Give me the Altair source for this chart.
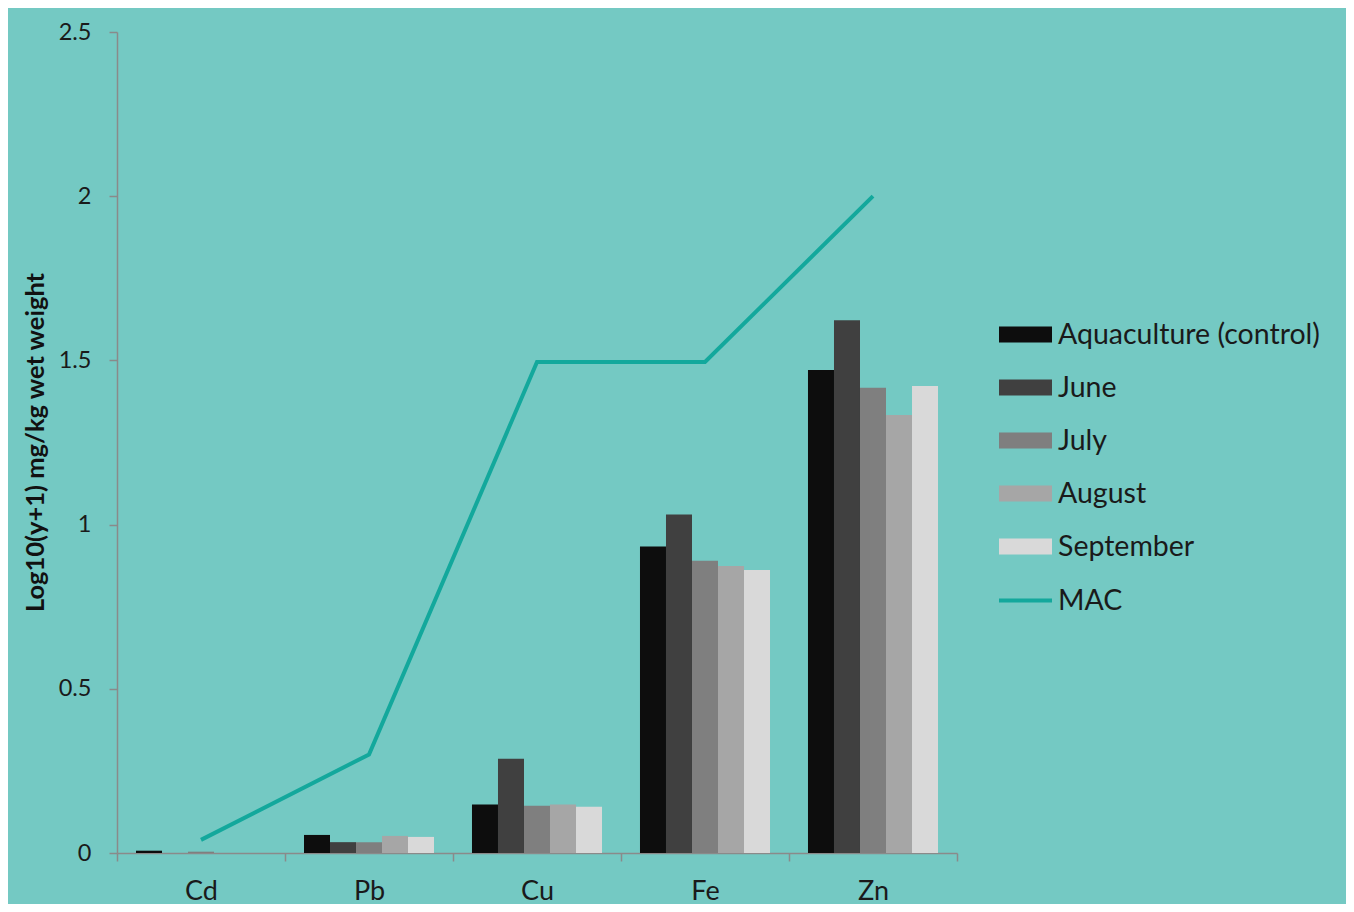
import altair as alt
import pandas as pd

metals = ["Cd", "Pb", "Cu", "Fe", "Zn"]
series = ["Aquaculture (control)", "June", "July", "August", "September"]
control = [0.007, 0.055, 0.148, 0.933, 1.471]
june = [0.0, 0.033, 0.287, 1.031, 1.622]
july = [0.004, 0.033, 0.144, 0.890, 1.417]
august = [0.0, 0.052, 0.148, 0.874, 1.334]
september = [0.0, 0.049, 0.141, 0.862, 1.422]
mac = [0.04, 0.30, 1.495, 1.495, 2.0]
y_ticks = [0, 0.5, 1, 1.5, 2, 2.5]

bar_colors = ["#0d0d0d", "#404040", "#7f7f7f", "#a6a6a6", "#d9d9d9"]
mac_color = "#13a89c"
FONT = "Lato"

rows = []
for s, vals in zip(series, [control, june, july, august, september]):
    for m, v in zip(metals, vals):
        rows.append({"metal": m, "series": s, "value": v})
bars_df = pd.DataFrame(rows)
mac_df = pd.DataFrame({"metal": metals, "value": mac, "series": ["MAC"] * len(metals)})

x_scale = alt.Scale(domain=metals, paddingInner=0, paddingOuter=0)
y_scale = alt.Scale(domain=[0, 2.5], nice=False)

x_axis = alt.Axis(
    title=None, labelFont=FONT, labelFontSize=27, labelColor="#1a1a1a",
    labelPadding=17, tickBand="extent", tickSize=8, tickColor="#8a8a8a",
    domainColor="#8a8a8a", domainWidth=1.5, tickWidth=1.5, grid=False,
    labelAngle=0,
)
y_axis = alt.Axis(
    title="Log10(y+1) mg/kg wet weight", values=y_ticks,
    labelFont=FONT, labelFontSize=23.5, labelColor="#1a1a1a", labelPadding=18,
    tickSize=8, tickColor="#8a8a8a", tickWidth=1.5,
    domainColor="#8a8a8a", domainWidth=1.5, grid=False,
    titleFont=FONT, titleFontSize=25.5, titleFontWeight="bold", titleColor="#111111",
    titleX=-82, titleY=410, titleAngle=270, titleAlign="center", titleBaseline="middle",
    labelExpr="datum.value",
)

bars = alt.Chart(bars_df).mark_bar().encode(
    x=alt.X("metal:N", scale=x_scale, axis=x_axis, sort=metals),
    xOffset=alt.XOffset("series:N", sort=series,
                        scale=alt.Scale(domain=series, paddingInner=0, paddingOuter=0.73)),
    y=alt.Y("value:Q", scale=y_scale, axis=y_axis),
    color=alt.Color(
        "series:N",
        scale=alt.Scale(domain=series, range=bar_colors),
        sort=series,
        legend=alt.Legend(
            title=None, orient="none", legendX=882, legendY=276,
            symbolType="M-1,-0.3L1,-0.3L1,0.3L-1,0.3Z", symbolSize=2809,
            symbolStrokeWidth=0, labelFont=FONT, labelFontSize=28.5,
            labelColor="#1a1a1a", labelOffset=6, rowPadding=12, padding=0,
            labelLimit=400,
        ),
    ),
)

line = alt.Chart(mac_df).mark_line(strokeWidth=4).encode(
    x=alt.X("metal:N", scale=x_scale, sort=metals),
    y=alt.Y("value:Q", scale=y_scale),
    stroke=alt.Stroke(
        "series:N",
        scale=alt.Scale(domain=["MAC"], range=[mac_color]),
        legend=alt.Legend(
            title=None, orient="none", legendX=880, legendY=540,
            symbolType="stroke", symbolSize=2809, symbolStrokeWidth=4,
            labelFont=FONT, labelFontSize=28.5, labelColor="#1a1a1a",
            labelOffset=4, padding=0,
        ),
    ),
)

chart = alt.layer(bars, line).properties(
    width=840, height=821,
    autosize=alt.AutoSizeParams(type="none"),
    padding={"left": 109, "top": 24, "right": 389, "bottom": 51},
    background="#74c9c3",
).configure_view(stroke=None)

chart.save("out.html", embed_options={"renderer": "svg", "actions": False})
